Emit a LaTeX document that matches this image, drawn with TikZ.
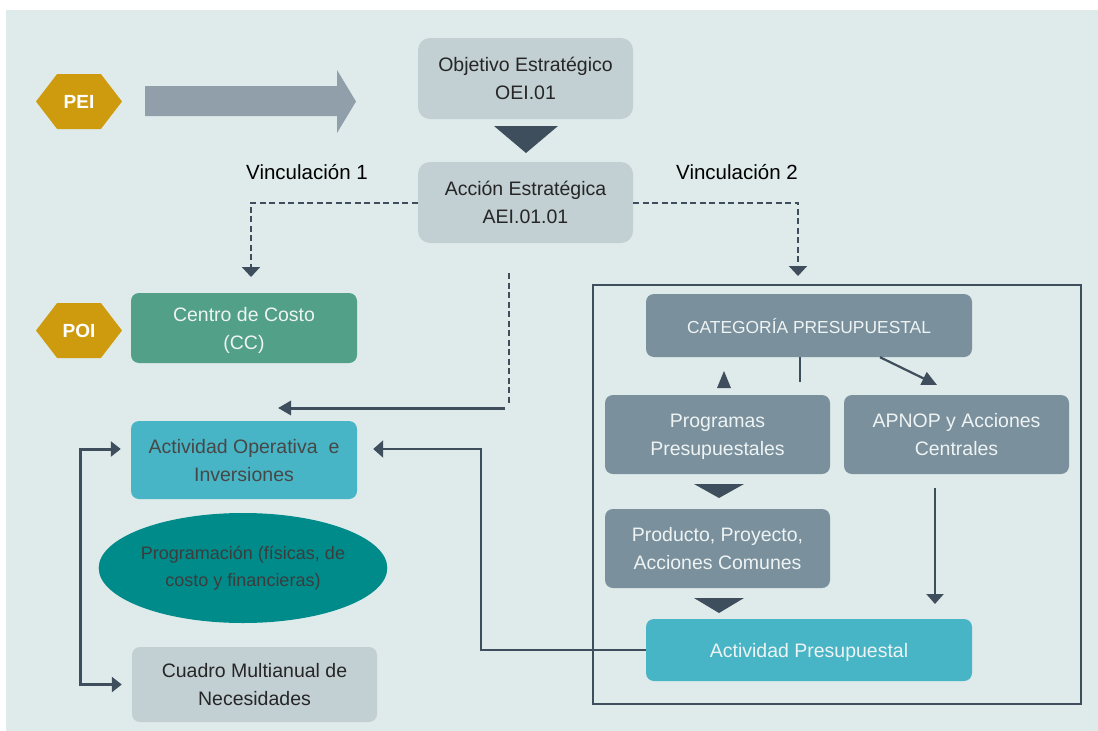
\documentclass[tikz,border=0pt]{standalone}
\usepackage{fontspec}
\setmainfont{Liberation Sans}
\usetikzlibrary{shapes.geometric,shapes.symbols,arrows.meta}
\definecolor{fondo}{HTML}{DFEAEA}
\definecolor{oro}{HTML}{CF9B0E}
\definecolor{flechagris}{HTML}{919FAB}
\definecolor{grisclaro}{HTML}{C2CFD3}
\definecolor{oscuro}{HTML}{3E4E5C}
\definecolor{verde}{HTML}{52A087}
\definecolor{celeste}{HTML}{47B5C5}
\definecolor{pizarra}{HTML}{7A909C}
\definecolor{petroleo}{HTML}{008B8B}
\definecolor{textoosc}{HTML}{262626}
\definecolor{textoclaro}{HTML}{EEF3F4}
\begin{document}
\begin{tikzpicture}
    [
    x=1pt,y=-1pt,
    caja/.style={rectangle,rounded corners=8pt,inner sep=0pt,align=center,font=\fontsize{19.5}{28}\selectfont,text depth=0pt},
    gris/.style={caja,fill=grisclaro,text=textoosc},
    pizarrabox/.style={caja,fill=pizarra,text=textoclaro,minimum width=225,minimum height=79},
    hexa/.style={signal,signal to=west and east,signal pointer angle=105,fill=oro,text=white,inner sep=0pt,minimum width=86,minimum height=55,font=\fontsize{19}{22}\selectfont\bfseries},
    rotulo/.style={inner sep=0pt,text=black,font=\fontsize{20.5}{24}\selectfont},
    discont/.style={draw=oscuro,line width=2pt,dash pattern=on 6pt off 3.5pt,-{Triangle[width=18pt,length=10pt]}},
    linea/.style={draw=oscuro,line width=3pt},
    chevron/.style={fill=oscuro}
    ]
    \fill[white] (0,0) rectangle (1098,731);
    \fill[fondo] (6,10) rectangle (1098,731);
    \useasboundingbox (0,0) rectangle (1098,731);

    \node (pei) at (79,101.5) [hexa] {PEI};
    \fill[flechagris] (145,86) -- (337,86) -- (337,70) -- (356,101.5) -- (337,133) -- (337,116) -- (145,116) -- cycle;

    \node (oei) at (525.5,78.5) [gris,rounded corners=12pt,minimum width=215,minimum height=81] {Objetivo Estratégico\\OEI.01};
    \fill[chevron] (494,126) -- (558,126) -- (526,153) -- cycle;
    \node (aei) at (525.5,202.5) [gris,rounded corners=12pt,minimum width=215,minimum height=81] {Acción Estratégica\\AEI.01.01};

    \node (vin1) at (307,172) [rotulo] {Vinculación 1};
    \node (vin2) at (737,172) [rotulo] {Vinculación 2};

    \coordinate (v1) at (251,277);
    \coordinate (v2) at (798,276);
    \draw [discont] (aei.west) -| (v1);
    \draw [discont] (aei.east) -| (v2);

    \node (poi) at (79,330.5) [hexa] {POI};
    \node (cc) at (244,328) [caja,fill=verde,text=textoclaro,minimum width=226,minimum height=70] {Centro de Costo\\(CC)};

    \coordinate (d1) at (509,273);
    \coordinate (d2) at (509,405);
    \coordinate (d3) at (505,408);
    \coordinate (d4) at (278,408);
    \draw [discont,-] (d1) -- (d2);
    \draw [linea,-{Triangle[width=14pt,length=13pt]}] (d3) -- (d4);

    \node (aoi) at (244,460) [caja,fill=celeste,text=textoosc!85,minimum width=226,minimum height=78] {Actividad Operativa \ e\\Inversiones};
    \node (prog) at (243,568) [ellipse,fill=petroleo,text=textoosc!90,inner sep=0pt,minimum width=286,minimum height=110,align=center,font=\fontsize{18}{27}\selectfont] {Programación (físicas, de\\costo y financieras)};
    \node (cmn) at (254.5,684.5) [gris,minimum width=245,minimum height=75] {Cuadro Multianual de\\Necesidades};

    \draw [linea,{Triangle[width=15pt,length=10pt]}-{Triangle[width=15pt,length=10pt]},shorten <=10pt,shorten >=10pt] ([yshift=11pt]aoi.west) -| (80,684.5) -- (cmn.west);

    \node (marco) at (837,494.5) [draw=oscuro,line width=2.2pt,inner sep=0pt,minimum width=488,minimum height=419] {};
    \node (cat) at (809,325.5) [pizarrabox,font=\fontsize{17.4}{20}\selectfont,minimum width=326,minimum height=63] {CATEGORÍA PRESUPUESTAL};
    \node (pp) at (717.5,434.5) [pizarrabox] {Programas\\Presupuestales};
    \node (apnop) at (956.5,434.5) [pizarrabox] {APNOP y Acciones\\Centrales};
    \node (ppa) at (717.5,548.5) [pizarrabox] {Producto, Proyecto,\\Acciones Comunes};
    \node (ap) at (809,650) [caja,fill=celeste,text=textoclaro,minimum width=326,minimum height=62] {Actividad Presupuestal};

    \draw [linea,line width=2.2pt] (cat.south -| 800,0) -- ++(0,25);
    \fill[chevron] (717,388) -- (724,371) -- (731,388) -- cycle;
    \draw [linea,line width=2.2pt,-{Triangle[width=14pt,length=15pt]}] (cat.south -| 880,0) -- (937,385);
    \fill[chevron] (694,484) -- (744,484) -- (719,498) -- cycle;
    \fill[chevron] (694,598) -- (744,598) -- (719,613) -- cycle;

    \coordinate (a1) at (935,488);
    \coordinate (a2) at (935,604);
    \draw [linea,line width=2.2pt,-{Triangle[width=17pt,length=10pt]}] (a1) -- (a2);

    \coordinate (codo) at (481,449);
    \draw [linea,line width=2.2pt,-{Triangle[width=17pt,length=10pt]},shorten >=16pt] (ap.west) -| (codo) -- ([yshift=11pt]aoi.east);
  \end{tikzpicture}
\end{document}
